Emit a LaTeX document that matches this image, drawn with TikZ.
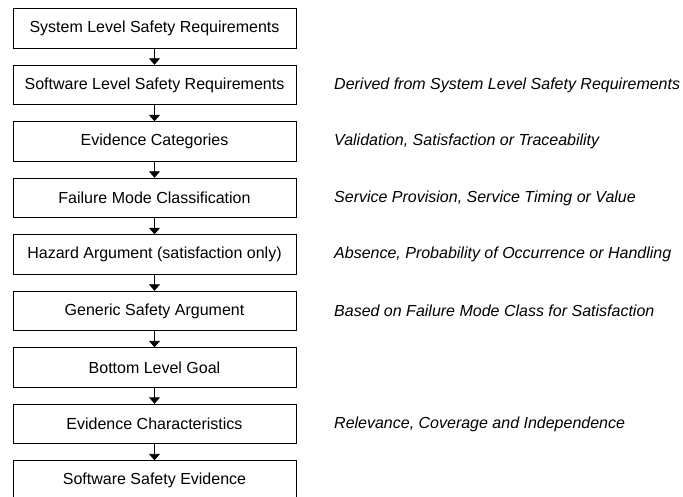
\documentclass[tikz,border=0pt]{standalone}
\usepackage{fontspec}
\setmainfont{Liberation Sans}
\usetikzlibrary{arrows.meta}
\begin{document}
\begin{tikzpicture}[x=1pt,y=-1pt,
  stepbox/.style={draw,line width=0.9pt,minimum width=283pt,minimum height=39.5pt,inner sep=0pt,font=\fontsize{16}{19}\selectfont},
  note/.style={anchor=west,inner sep=0pt,font=\fontsize{16}{19}\selectfont\itshape},
  conn/.style={line width=0.9pt,-{Triangle[length=6.5pt,width=11pt]}}]
\useasboundingbox (0,0) rectangle (683,497);
\clip (0,0) rectangle (683,497);
\def\dy{56.5}
\node[stepbox] (b1) at (154.5,28.5) {System Level Safety Requirements};
\node[stepbox] (b2) at (154.5,28.5+\dy) {Software Level Safety Requirements};
\node[stepbox] (b3) at (154.5,28.5+2*\dy) {Evidence Categories};
\node[stepbox] (b4) at (154.5,28.5+3*\dy) {Failure Mode Classification};
\node[stepbox] (b5) at (154.5,28.5+4*\dy) {Hazard Argument (satisfaction only)};
\node[stepbox] (b6) at (154.5,28.5+5*\dy) {Generic Safety Argument};
\node[stepbox] (b7) at (154.5,28.5+6*\dy) {Bottom Level Goal};
\node[stepbox] (b8) at (154.5,28.5+7*\dy) {Evidence Characteristics};
\node[stepbox] (b9) at (154.5,28.5+8*\dy) {Software Safety Evidence};
\foreach \a/\b in {b1/b2,b2/b3,b3/b4,b4/b5,b5/b6,b6/b7,b7/b8,b8/b9}
  \draw[conn] (\a) -- (\b);
\node[note] (n2) at (334,28.5+\dy) {Derived from System Level Safety Requirements};
\node[note] (n3) at (334,28.5+2*\dy) {Validation, Satisfaction or Traceability};
\node[note] (n4) at (334,28.5+3*\dy) {Service Provision, Service Timing or Value};
\node[note] (n5) at (334,28.5+4*\dy) {Absence, Probability of Occurrence or Handling};
\node[note] (n6) at (334,28.5+5*\dy) {Based on Failure Mode Class for Satisfaction};
\node[note] (n8) at (334,28.5+7*\dy) {Relevance, Coverage and Independence};
\end{tikzpicture}
\end{document}
